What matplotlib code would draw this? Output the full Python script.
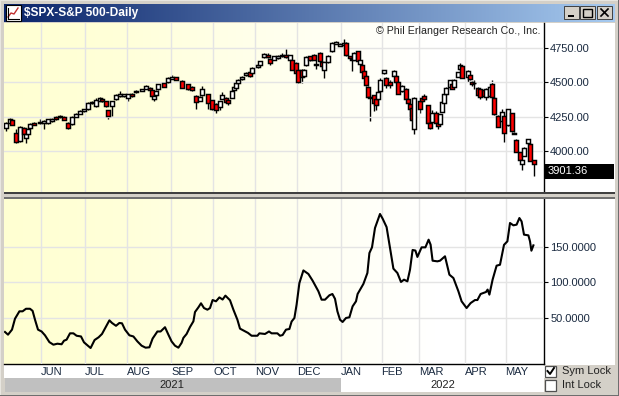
import matplotlib
matplotlib.use('Agg')
import matplotlib.pyplot as plt
from matplotlib.colors import LinearSegmentedColormap
from matplotlib.patches import Rectangle
import numpy as np

plt.rcParams['font.family'] = ['Liberation Sans', 'DejaVu Sans']

W, H = 619, 396

# daily candles, x is the trading day counted from the left edge of the chart
bar_day = [1, 3, 4, 6, 8, 10, 11, 12, 13, 15, 18, 20, 22, 24, 26, 28, 30, 32, 34, 36, 38, 40, 42, 44, 46, 48, 49, 51, 52, 54,
           56, 58, 60, 62, 64, 66, 69, 71, 73, 74, 75, 76, 77, 80, 82, 84, 86, 89, 92, 94, 96, 98, 99, 102, 104, 106, 108, 109, 111, 112,
           114, 115, 116, 117, 119, 121, 123, 124, 127, 128, 130, 132, 133, 135, 137, 139, 141, 143, 144, 146, 147, 149, 150, 151, 153, 155, 156, 158, 159, 160,
           162, 164, 166, 168, 170, 171, 173, 174, 175, 177, 178, 179, 180, 181, 182, 183, 185, 186, 187, 188, 190, 191, 193, 195, 196, 197, 199, 201, 202, 203,
           204, 205, 208, 209, 210, 212, 213, 214, 216, 217, 218, 219, 220, 221, 223, 224, 225, 227, 228, 229, 232, 233, 234, 235, 237, 238, 240, 241, 243, 244,
           245, 247, 249, 250, 252, 254, 255, 256, 258, 259, 260, 262, 263, 265]
opens = [4167, 4206, 4225, 4133, 4072, 4169, 4097, 4125, 4165, 4206, 4200, 4206, 4200, 4218, 4248, 4244, 4250, 4206, 4193, 4250, 4272, 4288, 4302, 4347, 4326, 4367, 4380, 4360, 4296, 4326,
         4375, 4399, 4397, 4387, 4417, 4428, 4438, 4452, 4460, 4440, 4380, 4404, 4448, 4496, 4500, 4525, 4535, 4508, 4484, 4465, 4399, 4367, 4407, 4411, 4368, 4345, 4322, 4380, 4387, 4370,
         4387, 4443, 4460, 4491, 4525, 4550, 4575, 4564, 4610, 4624, 4685, 4702, 4670, 4665, 4677, 4690, 4702, 4665, 4660, 4641, 4588, 4593, 4544, 4627, 4690, 4702, 4632, 4714, 4646, 4588,
         4646, 4726, 4782, 4767, 4774, 4786, 4690, 4672, 4665, 4726, 4636, 4624, 4581, 4544, 4467, 4394, 4404, 4375, 4375, 4435, 4564, 4532, 4501, 4549, 4549, 4501, 4435, 4452, 4380, 4339,
         4314, 4157, 4363, 4387, 4399, 4331, 4206, 4213, 4273, 4206, 4193, 4283, 4351, 4411, 4467, 4484, 4467, 4540, 4597, 4617, 4540, 4556, 4501, 4498, 4460, 4448, 4443, 4394, 4399, 4489,
         4387, 4254, 4218, 4254, 4186, 4273, 4133, 4080, 3993, 3905, 3963, 4055, 4053, 3930]
highs = [4208, 4240, 4235, 4157, 4180, 4175, 4110, 4165, 4200, 4212, 4235, 4222, 4233, 4240, 4252, 4258, 4254, 4210, 4254, 4278, 4295, 4306, 4356, 4365, 4385, 4395, 4385, 4365, 4300, 4365,
         4413, 4435, 4415, 4415, 4422, 4440, 4452, 4480, 4465, 4445, 4402, 4440, 4490, 4503, 4540, 4555, 4540, 4515, 4490, 4470, 4405, 4398, 4470, 4415, 4373, 4350, 4367, 4428, 4392, 4375,
         4440, 4470, 4495, 4525, 4545, 4575, 4580, 4610, 4635, 4658, 4714, 4712, 4675, 4695, 4700, 4714, 4743, 4702, 4665, 4646, 4594, 4598, 4594, 4690, 4695, 4707, 4702, 4720, 4650, 4650,
         4700, 4790, 4798, 4787, 4815, 4792, 4695, 4677, 4720, 4731, 4664, 4630, 4586, 4550, 4472, 4400, 4410, 4380, 4433, 4530, 4592, 4538, 4520, 4590, 4555, 4506, 4480, 4458, 4386, 4345,
         4320, 4392, 4368, 4392, 4418, 4336, 4211, 4297, 4290, 4210, 4270, 4360, 4415, 4465, 4520, 4488, 4525, 4578, 4637, 4622, 4590, 4560, 4506, 4520, 4465, 4453, 4448, 4457, 4470, 4513,
         4392, 4258, 4302, 4258, 4307, 4278, 4140, 4085, 3998, 3935, 4029, 4090, 4057, 3936]
lows = [4145, 4200, 4185, 4060, 4068, 4115, 4060, 4120, 4160, 4188, 4195, 4160, 4195, 4213, 4226, 4240, 4222, 4160, 4190, 4246, 4268, 4285, 4298, 4342, 4322, 4362, 4355, 4322, 4235, 4255,
        4370, 4395, 4393, 4365, 4396, 4425, 4435, 4448, 4440, 4395, 4363, 4400, 4444, 4462, 4496, 4522, 4516, 4456, 4444, 4438, 4302, 4362, 4403, 4302, 4300, 4278, 4297, 4376, 4350, 4331,
        4383, 4440, 4456, 4488, 4520, 4546, 4540, 4560, 4606, 4620, 4680, 4678, 4624, 4660, 4672, 4686, 4678, 4660, 4588, 4564, 4496, 4498, 4540, 4622, 4655, 4660, 4597, 4648, 4600, 4532,
        4640, 4720, 4778, 4763, 4770, 4692, 4670, 4581, 4660, 4652, 4632, 4572, 4528, 4475, 4390, 4218, 4290, 4297, 4331, 4430, 4560, 4458, 4460, 4545, 4496, 4414, 4430, 4375, 4346, 4230,
        4220, 4121, 4278, 4358, 4370, 4195, 4162, 4209, 4200, 4162, 4190, 4280, 4347, 4408, 4463, 4448, 4463, 4536, 4593, 4528, 4501, 4520, 4475, 4452, 4400, 4380, 4395, 4370, 4395, 4390,
        4262, 4173, 4214, 4065, 4182, 4141, 4122, 3989, 3930, 3862, 3959, 4050, 3923, 3813]
closes = [4203, 4235, 4190, 4065, 4176, 4125, 4120, 4162, 4193, 4192, 4212, 4218, 4230, 4235, 4230, 4254, 4225, 4169, 4250, 4272, 4290, 4302, 4351, 4358, 4370, 4387, 4360, 4326, 4254, 4360,
          4409, 4415, 4411, 4411, 4400, 4435, 4448, 4476, 4443, 4399, 4399, 4435, 4484, 4467, 4530, 4540, 4520, 4460, 4448, 4442, 4355, 4394, 4448, 4351, 4307, 4297, 4363, 4404, 4355, 4351,
          4435, 4465, 4491, 4520, 4540, 4568, 4544, 4605, 4629, 4653, 4706, 4682, 4641, 4690, 4694, 4702, 4682, 4697, 4593, 4568, 4505, 4540, 4588, 4685, 4660, 4665, 4626, 4653, 4617, 4646,
          4694, 4786, 4792, 4782, 4786, 4697, 4675, 4665, 4714, 4658, 4660, 4576, 4532, 4479, 4394, 4385, 4346, 4331, 4428, 4520, 4588, 4477, 4477, 4581, 4501, 4418, 4472, 4380, 4351, 4307,
          4225, 4387, 4307, 4363, 4375, 4200, 4169, 4278, 4206, 4181, 4266, 4355, 4411, 4460, 4513, 4452, 4520, 4573, 4629, 4532, 4585, 4525, 4484, 4494, 4404, 4394, 4399, 4452, 4465, 4394,
          4266, 4177, 4283, 4133, 4302, 4145, 4126, 3993, 3935, 3930, 4024, 4085, 3927, 3901]

last_price = '3901.36'
price_ticks = [4750, 4500, 4250, 4000]

# lower panel line
osc_day = [0.5, 2, 4, 5.5, 7.7, 9.3, 11, 13, 14.3, 15.5, 17, 18.8, 20.5, 22.7, 24.7, 26.7, 28.8, 30, 31.3, 33, 34.7, 36.3, 38.5, 40, 41.7, 43.3, 45.3, 47.3, 49, 51,
           52.7, 54, 56, 57.7, 59, 60.5, 62.7, 64.7, 66.7, 68.8, 70.8, 72.7, 74.3, 76.7, 78.3, 80.5, 82.2, 83.8, 85.5, 87.2, 88.8, 89.7, 91.3, 93, 94.7, 95.5, 97.2, 98.5, 100, 101.7,
           103, 104.3, 106, 107.7, 109.3, 110.7, 113, 114.7, 116.7, 118, 120, 122, 123.8, 126.7, 127.7, 130.5, 132.5, 133.8, 136.7, 138, 139.3, 141, 142.7, 143.8, 145.2, 146.3, 147.7, 149.7, 152.2, 154.3,
           157.2, 158.8, 160.5, 162.7, 164.2, 165.5, 166.7, 168, 169.3, 171, 172.7, 174.3, 176, 176.8, 179.7, 181.7, 182.7, 184, 185.5, 188, 189.3, 191.3, 193, 194.7, 196.7, 198.5, 200, 201.7, 203, 204.3,
           205.7, 206.7, 208.8, 210.7, 212.3, 213.3, 214.3, 216.7, 218, 220.5, 222.7, 224.7, 227.2, 228.8, 231.3, 233.3, 235.5, 236.7, 238.3, 241, 241.8, 242.7, 244.3, 246.3, 248, 250, 251.7, 253, 254.7, 256.3,
           257.7, 258.8, 260, 262.2, 263, 263.7, 264.7]
osc_val = [30.3, 26.5, 33.6, 49, 59.4, 59.4, 63, 63, 60, 47.6, 33.6, 31, 25.6, 16, 12.4, 13.8, 13, 18, 19.5, 28.4, 28.4, 25, 24, 15.7, 11.5, 7.7, 19, 22.8, 27.5, 38,
           46.7, 43, 39, 43, 42.5, 33.6, 25.6, 24, 17, 11, 8.2, 8.7, 21, 31, 31, 37, 26.5, 17, 11, 8.2, 15, 22, 27.5, 37.3, 45.3, 58.4, 65, 70.7, 64, 61.7,
           64, 75.3, 73.5, 79, 76, 81.5, 75, 61.7, 47.6, 35, 32, 29, 25, 25, 28.4, 27.5, 31, 28.4, 28.4, 25, 26, 33.6, 34.5, 45, 50, 68.8, 99.3, 117, 112, 102.6,
           87.6, 75.8, 75.8, 82, 83.8, 77, 59.4, 47.6, 44.4, 50, 51, 66.4, 73.5, 83.8, 98, 113.4, 141.5, 149.5, 176.8, 196.5, 190, 178, 148.6, 119.5, 113.4, 100.7, 104, 101.6, 118, 145.8,
           145, 136, 149.5, 149.5, 160.3, 153.3, 130.7, 129.8, 130.7, 136.9, 111, 106.3, 87.6, 73.5, 64, 71, 75.3, 75.3, 83.8, 86.6, 90, 82.9, 104, 123.7, 125, 153, 158, 183.8, 180.5, 181.5,
           190.8, 186, 167.4, 166.4, 158, 144.8, 152.3]
osc_ticks = [150, 100, 50]

months = ['JUN', 'JUL', 'AUG', 'SEP', 'OCT', 'NOV', 'DEC', 'JAN', 'FEB', 'MAR', 'APR', 'MAY']
month_day = [18.6, 40.6, 61.6, 83.6, 104.6, 125.6, 146.6, 168.6, 188.8, 207.6, 230.6, 250.8]


def px_axes(x0, y0, x1, y1, **kw):
    return fig.add_axes([x0 / W, 1 - y1 / H, (x1 - x0) / W, (y1 - y0) / H], **kw)


fig = plt.figure(figsize=(W / 100, H / 100), dpi=100, facecolor='#D4D0C8')

# white behind the price scale and the month labels
fig.add_artist(Rectangle((4 / W, 1 - 378 / H), 611 / W, 355 / H, transform=fig.transFigure,
                         fc='white', ec='none', zorder=-1))

# chart area background fades from pale yellow to white
bg_cmap = LinearSegmentedColormap.from_list('bg', ['#FFFFD2', '#FFFFD8', '#FFFFE6', '#FFFFF4', '#FFFFFF', '#FFFFFF'])
grad = np.linspace(0, 1, 256).reshape(1, -1)

ax1 = px_axes(4, 23, 544, 192)
ax2 = px_axes(4, 199, 544, 364)
for ax in (ax1, ax2):
    ax.imshow(grad, cmap=bg_cmap, aspect='auto', extent=(0, 1, 0, 1), transform=ax.transAxes, zorder=0)
    ax.set_xlim(0, 270)
    ax.set_xticks(month_day)
    ax.grid(True, color='#E4E4E4', lw=1.0, zorder=1)
    ax.set_axisbelow(False)
    for gl in ax.get_xgridlines() + ax.get_ygridlines():
        gl.set_zorder(1)
    ax.spines['top'].set_visible(False)
    ax.spines['left'].set_visible(False)
    ax.spines['right'].set_linewidth(1.0)
    ax.yaxis.tick_right()
    ax.tick_params(axis='y', length=3, width=0.8, pad=1.5, labelsize=8, labelcolor='#1a2a40', color='black')

# price candles
ax1.set_ylim(3700, 4932)
ax1.set_yticks(price_ticks)
ax1.set_yticklabels([f'{v:.2f}' for v in price_ticks])
ax1.spines['bottom'].set_visible(False)
ax1.tick_params(axis='x', length=0, labelbottom=False)
ax1.vlines(bar_day, lows, highs, color='black', lw=1.0, zorder=2)
o = np.array(opens)
c = np.array(closes)
colors = ['#FF0000' if a < b else 'white' for a, b in zip(c, o)]
ax1.bar(bar_day, np.abs(c - o), width=1.9, bottom=np.minimum(o, c), color=colors,
        edgecolor='black', linewidth=1.05, zorder=3)

# last price box
ax1.text(1.006, 0.126, last_price, transform=ax1.transAxes, fontsize=8, color='white', va='center', ha='left',
         zorder=6, clip_on=False)
ax1.add_patch(Rectangle((1.0, 0.078), 0.13, 0.085, transform=ax1.transAxes, fc='black', ec='none', clip_on=False, zorder=5))

# lower panel
ax2.set_ylim(-14.8, 217.6)
ax2.set_yticks(osc_ticks)
ax2.set_yticklabels([f'{v:.4f}' for v in osc_ticks])
ax2.plot(osc_day, osc_val, color='black', lw=1.5, zorder=3)
ax2.spines['bottom'].set_linewidth(1.0)
ax2.set_xticklabels(months, ha='left', fontsize=8, color='#1a2a40')
ax2.tick_params(axis='x', length=0, pad=2.5)

# window chrome, drawn in pixel coordinates
ov = fig.add_axes([0, 0, 1, 1], zorder=10)
ov.patch.set_alpha(0)
ov.axis('off')
title_cmap = LinearSegmentedColormap.from_list('title', ['#0A246A', '#A6CAF0'])
ov.imshow(grad, cmap=title_cmap, aspect='auto', extent=(4, 615, 22, 4), zorder=1)
ov.set_xlim(0, W)
ov.set_ylim(H, 0)


def box(x0, y0, x1, y1, fc, ec='none', lw=0.0, z=2):
    ov.add_patch(Rectangle((x0, y0), x1 - x0, y1 - y0, fc=fc, ec=ec, lw=lw, zorder=z))


# outer frame lines
box(0, 0, W, 1, '#E8E6E0')
box(0, 0, 1, H, '#E8E6E0')
box(W - 1, 0, W, H, '#6E6E6E')
box(0, H - 1, W, H, '#6E6E6E')

# title bar icon
box(6, 5, 21, 21, 'white', ec='black', lw=0.8)
ov.plot([8, 11, 14, 18], [17, 13, 14, 8], color='#C03030', lw=1.0, zorder=3)
ov.plot([8, 8, 8], [8, 13, 19], color='black', lw=0.8, zorder=3)
ov.plot([8, 19], [19, 19], color='black', lw=0.8, zorder=3)
ov.text(24, 13.2, '$SPX-S&P 500-Daily', color='white', fontsize=8.6, fontweight='bold', va='center', ha='left', zorder=4)

# window buttons
for x0, kind in [(564, 'min'), (580, 'max'), (597, 'close')]:
    box(x0, 6, x0 + 15, 19, '#D4D0C8', ec='#404040', lw=0.7, z=3)
    if kind == 'min':
        box(x0 + 4, 15, x0 + 10, 16.5, 'black', z=4)
    elif kind == 'max':
        box(x0 + 3, 8.5, x0 + 12, 16.5, 'none', ec='black', lw=1.0, z=4)
    else:
        ov.plot([x0 + 4, x0 + 11], [9, 16], color='black', lw=1.2, zorder=4)
        ov.plot([x0 + 4, x0 + 11], [16, 9], color='black', lw=1.2, zorder=4)

ov.text(541, 30.5, '\u00a9 Phil Erlanger Research Co., Inc.', fontsize=7.7, color='#222222', va='center', ha='right', zorder=4)

# divider between the panels
box(4, 192, 615, 194, '#404040')
box(4, 194, 615, 197, '#D4D0C8')
box(4, 197, 615, 199, '#707070')

# year bar
box(5, 378, 340.5, 392, '#C0C0C0')
box(340.5, 378, 544, 392, 'white')
ov.text(172, 385, '2021', fontsize=8, color='#222222', va='center', ha='center', zorder=4)
ov.text(443, 385, '2022', fontsize=8, color='#222222', va='center', ha='center', zorder=4)

# lock boxes
box(544.5, 364.5, 615, 392, '#D4D0C8')
box(545, 366, 556, 376.5, 'white', ec='#505050', lw=0.9, z=3)
ov.plot([547.5, 550, 554], [371, 374, 368], color='black', lw=1.4, zorder=4)
box(545, 380, 556, 391, 'white', ec='#505050', lw=0.9, z=3)
ov.text(562, 371.5, 'Sym Lock', fontsize=8, color='#222222', va='center', ha='left', zorder=4)
ov.text(562, 385.5, 'Int Lock', fontsize=8, color='#222222', va='center', ha='left', zorder=4)

fig.savefig('out.png', dpi=100, facecolor=fig.get_facecolor())
